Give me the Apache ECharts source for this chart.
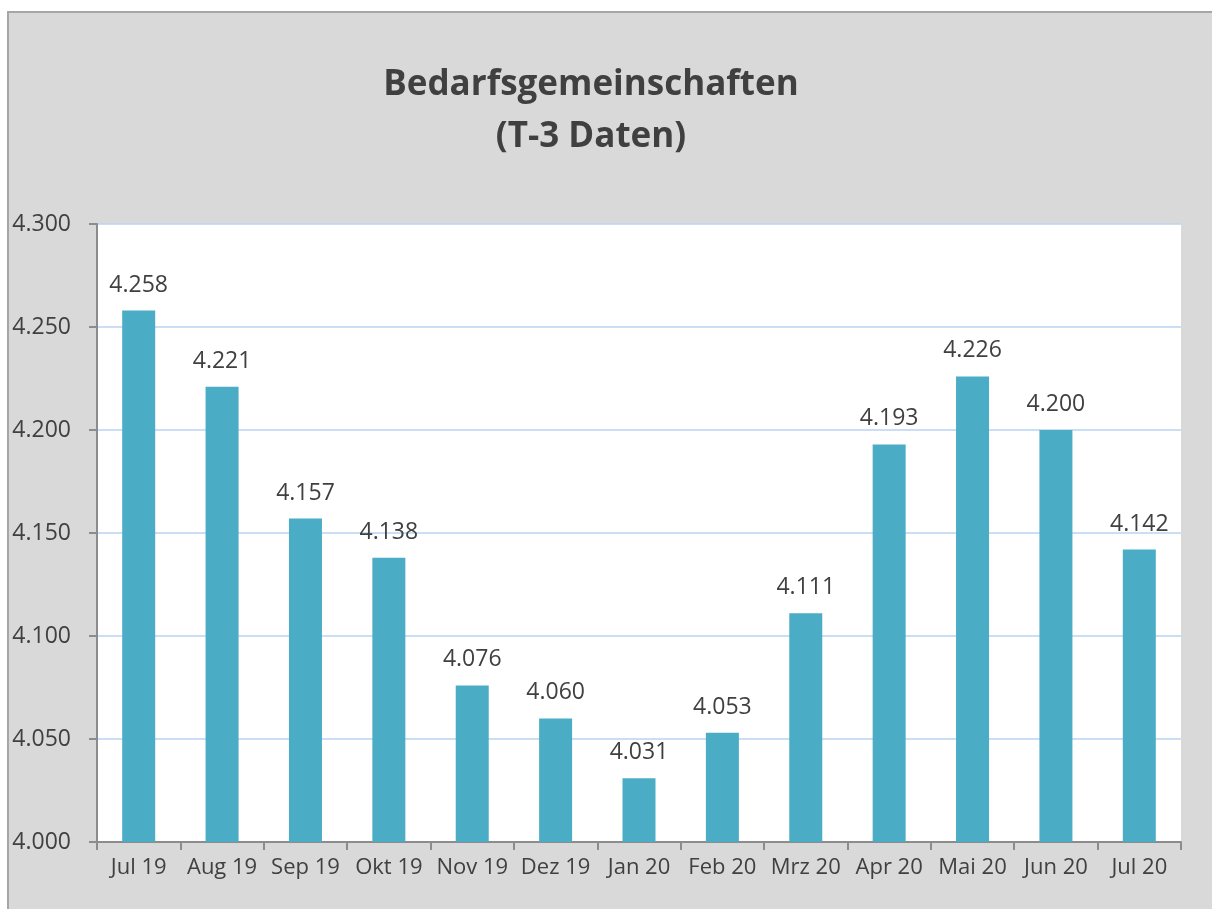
<!DOCTYPE html>
<html>
<head>
<meta charset="utf-8">
<script src="https://cdn.jsdelivr.net/npm/echarts@6/dist/echarts.min.js"></script>
<style>
  html, body { margin: 0; padding: 0; background: #fff; }
  #chart { width: 1212px; height: 909px; }
</style>
</head>
<body>
<div id="chart"></div>
<script>
// Bedarfsgemeinschaften, Monatswerte (T-3 Daten)
const months = ['Jul 19', 'Aug 19', 'Sep 19', 'Okt 19', 'Nov 19', 'Dez 19', 'Jan 20', 'Feb 20', 'Mrz 20', 'Apr 20', 'Mai 20', 'Jun 20', 'Jul 20']
const values = [4258, 4221, 4157, 4138, 4076, 4060, 4031, 4053, 4111, 4193, 4226, 4200, 4142]
const yTicks = [4000, 4050, 4100, 4150, 4200, 4250, 4300]

// deutsche Tausenderpunkte
const fmt = v => {
  const s = String(Math.round(v))
  return s.replace(/\B(?=(\d{3})+(?!\d))/g, '.')
}

const textFont = '"Open Sans", "Noto Sans", sans-serif'

var myChart = echarts.init(document.getElementById('chart'))

var option = {
  backgroundColor: '#ffffff',
  animation: false,
  graphic: [{
    type: 'rect',
    z: -10,
    silent: true,
    shape: { x: 8, y: 12, width: 1220, height: 910 },
    style: { fill: '#d9d9d9', stroke: '#a6a6a6', lineWidth: 2 }
  }],
  title: {
    text: 'Bedarfsgemeinschaften\n(T-3 Daten)',
    left: 586,
    top: 54,
    textAlign: 'center',
    textStyle: {
      fontFamily: textFont,
      fontSize: 35,
      fontWeight: 'bold',
      color: '#404040',
      lineHeight: 52
    }
  },
  grid: {
    left: 97,
    right: 31,
    top: 224,
    bottom: 67,
    show: true,
    backgroundColor: '#ffffff',
    borderWidth: 0,
    containLabel: false
  },
  xAxis: {
    type: 'category',
    data: months,
    axisLine: { show: true, lineStyle: { color: '#8c8c8c', width: 2 } },
    axisTick: { show: true, length: 8, lineStyle: { color: '#8c8c8c', width: 2 } },
    axisLabel: {
      interval: 0,
      margin: 15,
      fontFamily: textFont,
      fontSize: 22,
      color: '#404040'
    },
    splitLine: { show: false }
  },
  yAxis: {
    type: 'value',
    min: yTicks[0],
    max: yTicks[yTicks.length - 1],
    interval: 50,
    axisLine: { show: true, lineStyle: { color: '#8c8c8c', width: 2 } },
    axisTick: { show: true, length: 8, lineStyle: { color: '#8c8c8c', width: 2 } },
    axisLabel: {
      margin: 26,
      fontFamily: textFont,
      fontSize: 23,
      color: '#404040',
      formatter: v => fmt(v)
    },
    splitLine: { show: true, lineStyle: { color: '#b8d3f2', width: 1.5 } }
  },
  series: [{
    type: 'bar',
    data: values,
    barWidth: 33,
    itemStyle: { color: '#4bacc6' },
    label: {
      show: true,
      position: 'top',
      distance: 14,
      fontFamily: textFont,
      fontSize: 23,
      color: '#404040',
      formatter: p => fmt(p.value)
    }
  }]
}

myChart.setOption(option)
</script>
</body>
</html>
